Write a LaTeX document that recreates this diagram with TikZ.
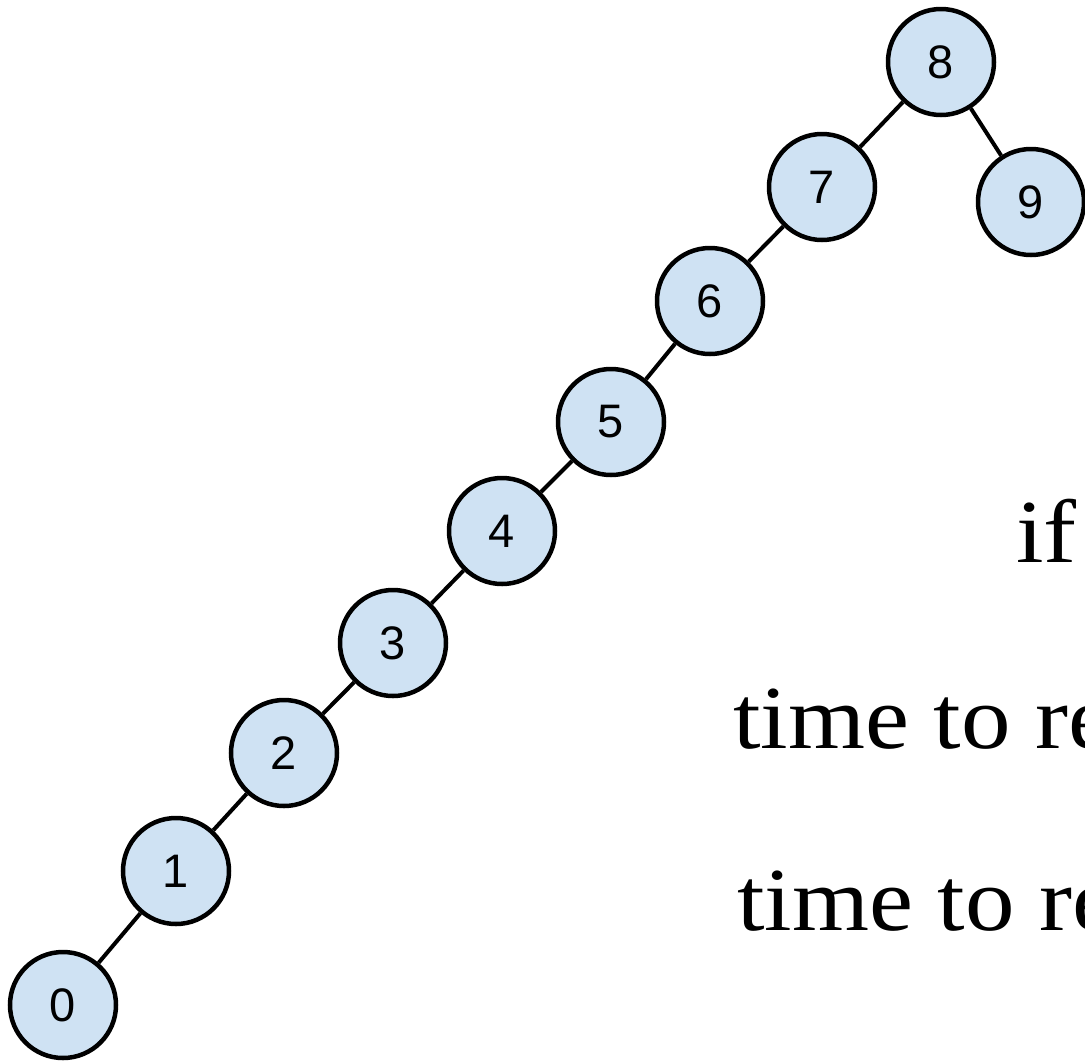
\documentclass[tikz,border=0pt]{standalone}
\usepackage{fontspec}
\setmainfont{Liberation Serif}
\setsansfont{Liberation Sans}
\newfontfamily\notefont[FakeStretch=1.1]{Liberation Serif}
\usepackage{tikz}
\usetikzlibrary{positioning}
\definecolor{keyblue}{HTML}{CFE2F3}

\begin{document}
\begin{tikzpicture}[
  x=1pt, y=-1pt,
  key/.style={circle, draw=black, line width=4.5pt, fill=keyblue, minimum size=106pt, inner sep=0pt, font=\fontsize{47}{56}\sffamily},
  link/.style={line width=4pt, black},
  note/.style={anchor=base west, inner sep=0pt, font=\fontsize{90}{108}\notefont}
]
\useasboundingbox (0,0) rectangle (1085,1061);

\foreach \n/\x/\y in {0/63/1005, 1/176/871, 2/284/753, 3/393/643, 4/502/531,
                      5/611/422, 6/710/301, 7/822/187, 8/941/62, 9/1031/202}
  \node[key] (k\n) at (\x,\y) {\n};

\foreach \a/\b in {0/1, 1/2, 2/3, 3/4, 4/5, 5/6, 6/7, 7/8, 8/9}
  \draw[link] (k\a) -- (k\b);

\node[note] (cond) at (1016,562) {if};
\node[note] (timeA) at (733,748) {time to re};
\node[note] (timeB) at (737,930) {time to re};
\end{tikzpicture}
\end{document}
